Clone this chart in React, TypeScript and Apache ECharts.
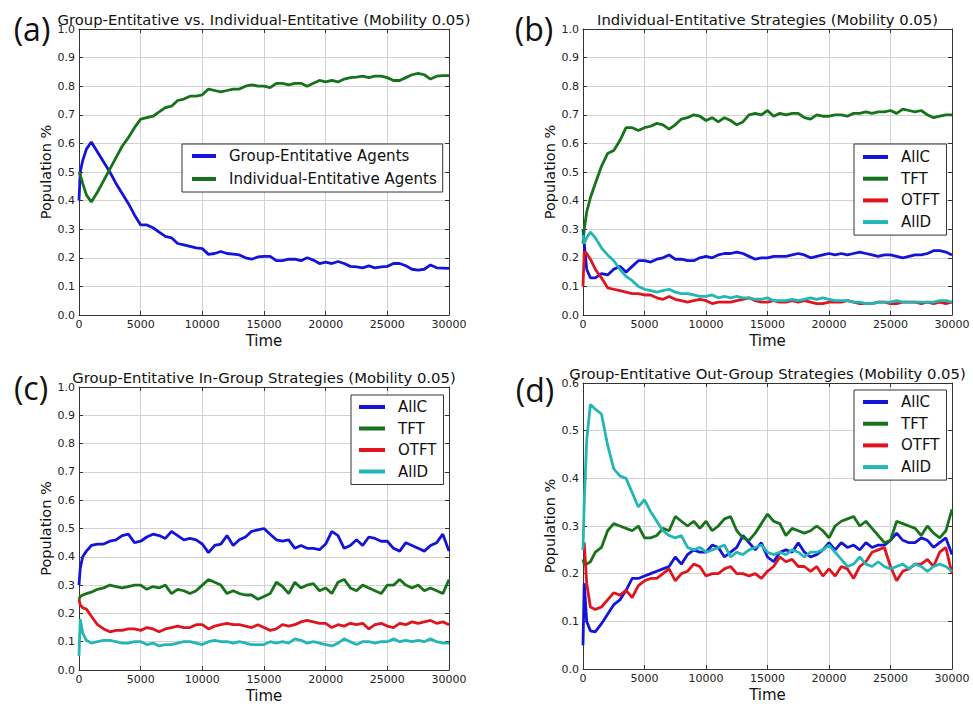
import React, { useEffect, useRef } from "react";
import * as echarts from "echarts";

const times = [
  0, 100, 300, 600, 1000,
  1500, 2000, 2500, 3000, 3500, 4000, 4500, 5000,
  5500, 6000, 6500, 7000, 7500, 8000, 8500, 9000, 9500, 10000,
  10500, 11000, 11500, 12000, 12500, 13000, 13500, 14000, 14500, 15000,
  15500, 16000, 16500, 17000, 17500, 18000, 18500, 19000, 19500, 20000,
  20500, 21000, 21500, 22000, 22500, 23000, 23500, 24000, 24500, 25000,
  25500, 26000, 26500, 27000, 27500, 28000, 28500, 29000, 29500, 30000,
];

// (a)
const aGroup = [
  0.40, 0.50, 0.54, 0.58, 0.605,
  0.57, 0.535, 0.50, 0.46, 0.425, 0.39, 0.35, 0.315,
  0.315, 0.305, 0.29, 0.275, 0.27, 0.25, 0.245, 0.24, 0.235, 0.232,
  0.212, 0.215, 0.222, 0.215, 0.213, 0.21, 0.20, 0.195, 0.203, 0.205,
  0.205, 0.19, 0.19, 0.195, 0.195, 0.19, 0.20, 0.192, 0.18, 0.185,
  0.18, 0.187, 0.18, 0.17, 0.168, 0.165, 0.172, 0.165, 0.168, 0.17,
  0.18, 0.18, 0.172, 0.16, 0.157, 0.16, 0.175, 0.165, 0.164, 0.163,
];
const aIndiv = [
  0.50, 0.49, 0.46, 0.42, 0.395,
  0.43, 0.47, 0.51, 0.55, 0.59, 0.62, 0.655, 0.685,
  0.69, 0.695, 0.71, 0.725, 0.73, 0.75, 0.755, 0.765, 0.765, 0.77,
  0.79, 0.785, 0.78, 0.785, 0.79, 0.79, 0.80, 0.805, 0.80, 0.80,
  0.795, 0.81, 0.81, 0.805, 0.81, 0.81, 0.80, 0.81, 0.82, 0.815,
  0.82, 0.815, 0.825, 0.83, 0.832, 0.835, 0.83, 0.835, 0.835, 0.83,
  0.82, 0.82, 0.83, 0.84, 0.845, 0.84, 0.825, 0.835, 0.837, 0.837,
];

// (b)
const bAllC = [
  0.30, 0.25, 0.16, 0.13, 0.13,
  0.145, 0.14, 0.16, 0.17, 0.15, 0.17, 0.19, 0.19,
  0.185, 0.195, 0.20, 0.21, 0.195, 0.195, 0.19, 0.19, 0.20, 0.205,
  0.20, 0.21, 0.215, 0.215, 0.22, 0.215, 0.205, 0.195, 0.20, 0.20,
  0.205, 0.205, 0.205, 0.21, 0.215, 0.21, 0.20, 0.205, 0.21, 0.215,
  0.21, 0.215, 0.21, 0.215, 0.22, 0.215, 0.21, 0.205, 0.21, 0.21,
  0.205, 0.20, 0.205, 0.21, 0.21, 0.215, 0.225, 0.225, 0.22, 0.21,
];
const bTFT = [
  0.25, 0.30, 0.36, 0.41, 0.46,
  0.52, 0.565, 0.575, 0.61, 0.655, 0.655, 0.645, 0.655,
  0.66, 0.67, 0.665, 0.65, 0.665, 0.685, 0.69, 0.70, 0.695, 0.68,
  0.69, 0.675, 0.69, 0.68, 0.665, 0.675, 0.70, 0.705, 0.70, 0.715,
  0.695, 0.705, 0.70, 0.705, 0.705, 0.69, 0.685, 0.70, 0.695, 0.695,
  0.70, 0.70, 0.695, 0.705, 0.705, 0.71, 0.705, 0.71, 0.71, 0.715,
  0.705, 0.72, 0.715, 0.71, 0.715, 0.70, 0.69, 0.695, 0.70, 0.70,
];
const bOTFT = [
  0.10, 0.22, 0.215, 0.195, 0.16,
  0.13, 0.095, 0.09, 0.085, 0.08, 0.075, 0.075, 0.07,
  0.07, 0.06, 0.055, 0.065, 0.055, 0.05, 0.045, 0.05, 0.055, 0.05,
  0.04, 0.045, 0.045, 0.045, 0.05, 0.055, 0.06, 0.05, 0.045, 0.045,
  0.05, 0.045, 0.045, 0.05, 0.045, 0.05, 0.045, 0.04, 0.04, 0.045,
  0.045, 0.045, 0.05, 0.045, 0.04, 0.04, 0.04, 0.045, 0.045, 0.04,
  0.04, 0.045, 0.045, 0.045, 0.04, 0.045, 0.04, 0.045, 0.04, 0.045,
];
const bAllD = [
  0.28, 0.25, 0.27, 0.29, 0.27,
  0.235, 0.21, 0.19, 0.16, 0.135, 0.12, 0.10, 0.09,
  0.085, 0.08, 0.085, 0.09, 0.08, 0.075, 0.075, 0.07, 0.065, 0.065,
  0.07, 0.06, 0.065, 0.06, 0.065, 0.06, 0.06, 0.055, 0.055, 0.06,
  0.05, 0.05, 0.05, 0.055, 0.05, 0.055, 0.06, 0.055, 0.06, 0.055,
  0.05, 0.05, 0.05, 0.045, 0.045, 0.04, 0.04, 0.045, 0.045, 0.045,
  0.05, 0.045, 0.045, 0.045, 0.045, 0.045, 0.045, 0.05, 0.05, 0.045,
];

// (c)
const cAllC = [
  0.30, 0.36, 0.40, 0.42, 0.44,
  0.445, 0.445, 0.455, 0.46, 0.475, 0.48, 0.45, 0.455,
  0.47, 0.48, 0.475, 0.465, 0.49, 0.475, 0.46, 0.465, 0.46, 0.445,
  0.415, 0.44, 0.445, 0.475, 0.44, 0.46, 0.47, 0.49, 0.495, 0.50,
  0.48, 0.46, 0.455, 0.46, 0.43, 0.44, 0.43, 0.43, 0.425, 0.445,
  0.49, 0.475, 0.43, 0.44, 0.46, 0.44, 0.47, 0.465, 0.455, 0.455,
  0.43, 0.42, 0.45, 0.44, 0.43, 0.42, 0.44, 0.45, 0.48, 0.42,
];
const cTFT = [
  0.25, 0.26, 0.265, 0.27, 0.275,
  0.285, 0.29, 0.30, 0.295, 0.29, 0.295, 0.30, 0.30,
  0.285, 0.295, 0.29, 0.30, 0.27, 0.285, 0.28, 0.27, 0.28, 0.30,
  0.32, 0.31, 0.30, 0.27, 0.28, 0.27, 0.265, 0.265, 0.25, 0.26,
  0.27, 0.31, 0.295, 0.27, 0.31, 0.29, 0.30, 0.305, 0.28, 0.29,
  0.27, 0.31, 0.32, 0.29, 0.28, 0.30, 0.29, 0.28, 0.27, 0.30,
  0.30, 0.32, 0.30, 0.29, 0.30, 0.28, 0.29, 0.28, 0.27, 0.32,
];
const cOTFT = [
  0.25, 0.23, 0.22, 0.215, 0.19,
  0.16, 0.145, 0.135, 0.14, 0.14, 0.145, 0.145, 0.14,
  0.15, 0.145, 0.135, 0.145, 0.15, 0.155, 0.15, 0.15, 0.16, 0.16,
  0.145, 0.155, 0.16, 0.165, 0.16, 0.16, 0.155, 0.15, 0.16, 0.15,
  0.14, 0.145, 0.16, 0.155, 0.16, 0.17, 0.175, 0.17, 0.165, 0.165,
  0.15, 0.16, 0.155, 0.165, 0.16, 0.165, 0.145, 0.16, 0.165, 0.155,
  0.15, 0.165, 0.16, 0.17, 0.165, 0.17, 0.175, 0.165, 0.17, 0.16,
];
const cAllD = [
  0.05, 0.18, 0.13, 0.105, 0.095,
  0.10, 0.105, 0.105, 0.10, 0.095, 0.095, 0.10, 0.10,
  0.09, 0.095, 0.085, 0.09, 0.09, 0.095, 0.10, 0.10, 0.095, 0.09,
  0.10, 0.105, 0.10, 0.10, 0.095, 0.10, 0.095, 0.09, 0.09, 0.09,
  0.10, 0.095, 0.10, 0.095, 0.11, 0.105, 0.095, 0.10, 0.095, 0.09,
  0.085, 0.095, 0.11, 0.10, 0.09, 0.10, 0.10, 0.095, 0.10, 0.10,
  0.11, 0.10, 0.105, 0.10, 0.105, 0.10, 0.11, 0.10, 0.095, 0.095,
];

// (d)
const dAllC = [
  0.05, 0.18, 0.10, 0.08, 0.078,
  0.095, 0.115, 0.135, 0.145, 0.165, 0.19, 0.19, 0.195,
  0.20, 0.205, 0.21, 0.215, 0.235, 0.22, 0.24, 0.25, 0.245, 0.245,
  0.26, 0.255, 0.235, 0.245, 0.255, 0.28, 0.265, 0.25, 0.265, 0.235,
  0.225, 0.245, 0.25, 0.245, 0.265, 0.245, 0.235, 0.24, 0.25, 0.265,
  0.25, 0.265, 0.255, 0.26, 0.25, 0.265, 0.255, 0.26, 0.26, 0.27,
  0.285, 0.27, 0.265, 0.265, 0.275, 0.27, 0.255, 0.265, 0.275, 0.24,
];
const dTFT = [
  0.23, 0.22, 0.22, 0.225, 0.245,
  0.255, 0.29, 0.305, 0.30, 0.295, 0.29, 0.30, 0.275,
  0.275, 0.28, 0.295, 0.29, 0.32, 0.31, 0.30, 0.31, 0.295, 0.31,
  0.29, 0.30, 0.315, 0.32, 0.29, 0.275, 0.27, 0.285, 0.305, 0.325,
  0.31, 0.305, 0.28, 0.295, 0.29, 0.285, 0.29, 0.30, 0.29, 0.275,
  0.30, 0.31, 0.315, 0.32, 0.30, 0.31, 0.295, 0.28, 0.265, 0.27,
  0.31, 0.305, 0.30, 0.295, 0.28, 0.30, 0.285, 0.275, 0.29, 0.335,
];
const dOTFT = [
  0.25, 0.265, 0.18, 0.13, 0.125,
  0.13, 0.145, 0.16, 0.155, 0.165, 0.15, 0.175, 0.185,
  0.19, 0.19, 0.20, 0.21, 0.185, 0.20, 0.205, 0.22, 0.215, 0.195,
  0.20, 0.20, 0.21, 0.215, 0.20, 0.20, 0.195, 0.20, 0.19, 0.205,
  0.215, 0.235, 0.225, 0.23, 0.215, 0.215, 0.205, 0.215, 0.195, 0.21,
  0.195, 0.215, 0.21, 0.19, 0.215, 0.225, 0.245, 0.25, 0.255, 0.215,
  0.185, 0.205, 0.21, 0.22, 0.22, 0.23, 0.215, 0.245, 0.255, 0.20,
];
const dAllD = [
  0.25, 0.35, 0.48, 0.555, 0.545,
  0.535, 0.47, 0.42, 0.405, 0.40, 0.37, 0.34, 0.355,
  0.33, 0.31, 0.29, 0.28, 0.275, 0.28, 0.255, 0.25, 0.255, 0.245,
  0.25, 0.255, 0.26, 0.235, 0.245, 0.24, 0.25, 0.255, 0.26, 0.245,
  0.24, 0.245, 0.24, 0.25, 0.245, 0.235, 0.245, 0.245, 0.25, 0.26,
  0.245, 0.23, 0.215, 0.22, 0.235, 0.22, 0.215, 0.225, 0.215, 0.21,
  0.215, 0.22, 0.21, 0.22, 0.215, 0.205, 0.215, 0.22, 0.215, 0.205,
];

const strategyNames = ["AllC", "TFT", "OTFT", "AllD"];
const agentNames = ["Group-Entitative Agents", "Individual-Entitative Agents"];
const panelTitles = [
  "Group-Entitative vs. Individual-Entitative (Mobility 0.05)",
  "Individual-Entitative Strategies (Mobility 0.05)",
  "Group-Entitative In-Group Strategies (Mobility 0.05)",
  "Group-Entitative Out-Group Strategies (Mobility 0.05)",
];
const panelLetters = ["(a)", "(b)", "(c)", "(d)"];
const yMaxes = [1.0, 1.0, 1.0, 0.6];

const BLUE = "#1414d8";
const GREEN = "#17731a";
const RED = "#e0141e";
const CYAN = "#22b6b6";
const FONT = "DejaVu Sans";

export default function App() {
  const ref = useRef<HTMLDivElement>(null);
  useEffect(() => {
    document.body.style.margin = "0";
    const chart = echarts.init(ref.current!, null, { renderer: "svg" });

    const grids = [
      { left: 79, top: 29, width: 370, height: 286 },
      { left: 583, top: 29, width: 369, height: 286 },
      { left: 79, top: 387, width: 370, height: 287 },
      { left: 583, top: 383, width: 369, height: 286 },
    ];

    const panelSeries: { name: string; color: string; values: number[] }[][] = [
      [
        { name: agentNames[0], color: BLUE, values: aGroup },
        { name: agentNames[1], color: GREEN, values: aIndiv },
      ],
      [
        { name: "AllC", color: BLUE, values: bAllC },
        { name: "TFT", color: GREEN, values: bTFT },
        { name: "OTFT", color: RED, values: bOTFT },
        { name: "AllD", color: CYAN, values: bAllD },
      ],
      [
        { name: "AllC", color: BLUE, values: cAllC },
        { name: "TFT", color: GREEN, values: cTFT },
        { name: "OTFT", color: RED, values: cOTFT },
        { name: "AllD", color: CYAN, values: cAllD },
      ],
      [
        { name: "AllC", color: BLUE, values: dAllC },
        { name: "TFT", color: GREEN, values: dTFT },
        { name: "OTFT", color: RED, values: dOTFT },
        { name: "AllD", color: CYAN, values: dAllD },
      ],
    ];

    const xAxes: any[] = [];
    const yAxes: any[] = [];
    grids.forEach((g, i) => {
      xAxes.push({
        type: "value",
        gridIndex: i,
        min: 0,
        max: 30000,
        interval: 5000,
        name: "Time",
        nameLocation: "middle",
        nameGap: 18,
        nameTextStyle: { fontFamily: FONT, fontSize: 15, color: "#111" },
        axisLine: { show: true, onZero: false, lineStyle: { color: "#333", width: 1 } },
        axisTick: { show: true, inside: true, length: 4, lineStyle: { color: "#333" } },
        axisLabel: {
          fontFamily: FONT,
          fontSize: 11,
          color: "#222",
          margin: 4,
          formatter: (v: number) => String(v),
        },
        splitLine: { show: true, lineStyle: { color: "#d2d2d2", width: 1 } },
      });
      xAxes.push({
        type: "value",
        gridIndex: i,
        position: "top",
        min: 0,
        max: 30000,
        interval: 5000,
        axisLine: { show: true, onZero: false, lineStyle: { color: "#333", width: 1 } },
        axisTick: { show: true, inside: true, length: 4, lineStyle: { color: "#333" } },
        axisLabel: { show: false },
        splitLine: { show: false },
      });
      yAxes.push({
        type: "value",
        gridIndex: i,
        min: 0,
        max: yMaxes[i],
        interval: 0.1,
        name: "Population %",
        nameLocation: "middle",
        nameGap: 25,
        nameRotate: 90,
        nameTextStyle: { fontFamily: FONT, fontSize: 14.5, color: "#111" },
        axisLine: { show: true, onZero: false, lineStyle: { color: "#333", width: 1 } },
        axisTick: { show: true, inside: true, length: 4, lineStyle: { color: "#333" } },
        axisLabel: {
          fontFamily: FONT,
          fontSize: 11,
          color: "#222",
          margin: 4,
          formatter: (v: number) => v.toFixed(1),
        },
        splitLine: { show: true, lineStyle: { color: "#d2d2d2", width: 1 } },
      });
      yAxes.push({
        type: "value",
        gridIndex: i,
        position: "right",
        min: 0,
        max: yMaxes[i],
        interval: 0.1,
        axisLine: { show: true, onZero: false, lineStyle: { color: "#333", width: 1 } },
        axisTick: { show: true, inside: true, length: 4, lineStyle: { color: "#333" } },
        axisLabel: { show: false },
        splitLine: { show: false },
      });
    });

    const series: any[] = [];
    panelSeries.forEach((list, i) => {
      list.forEach((s) => {
        series.push({
          type: "line",
          name: s.name,
          xAxisIndex: i * 2,
          yAxisIndex: i * 2,
          data: times.map((t, k) => [t, s.values[k]]),
          showSymbol: false,
          symbol: "none",
          color: s.color,
          lineStyle: { color: s.color, width: 2.8 },
          emphasis: { disabled: true },
        });
      });
    });

    const legendBase = {
      orient: "vertical",
      icon: "rect",
      itemHeight: 4,
      borderColor: "#333",
      borderWidth: 1,
      borderRadius: 0,
      backgroundColor: "#fff",
      selectedMode: false,
      textStyle: {
        fontFamily: FONT,
        fontSize: 15,
        color: "#111",
        lineHeight: 16,
        padding: [0, 0, 0, 8],
      },
    };

    const legends = [
      { ...legendBase, data: agentNames, left: 182, top: 144, padding: [4, 6, 5, 10], itemGap: 7, itemWidth: 24 },
      { ...legendBase, data: strategyNames, left: 854, top: 144, padding: [5, 7, 5, 9], itemGap: 5.7, itemWidth: 25 },
      { ...legendBase, data: strategyNames, left: 351, top: 395, padding: [4, 7, 5, 8], itemGap: 5.5, itemWidth: 26 },
      { ...legendBase, data: strategyNames, left: 854, top: 390, padding: [4, 7, 5, 9], itemGap: 5.7, itemWidth: 25 },
    ];

    const titleY = [19, 19, 377, 373];
    const letterPos = [
      [32, 28],
      [534, 28],
      [31, 387],
      [535, 389],
    ];
    const graphics: any[] = [];
    grids.forEach((g, i) => {
      graphics.push({
        type: "text",
        x: g.left + g.width / 2,
        y: titleY[i],
        style: {
          text: panelTitles[i],
          fontFamily: FONT,
          fontSize: 14.8,
          fill: "#111",
          align: "center",
          verticalAlign: "middle",
        },
      });
      graphics.push({
        type: "text",
        x: letterPos[i][0],
        y: letterPos[i][1],
        style: {
          text: panelLetters[i],
          fontFamily: "Open Sans",
          fontSize: 32,
          fill: "#111",
          align: "center",
          verticalAlign: "middle",
        },
      });
    });

    chart.setOption({
      animation: false,
      backgroundColor: "#fff",
      grid: grids.map((g) => ({ ...g, containLabel: false })),
      xAxis: xAxes,
      yAxis: yAxes,
      legend: legends,
      series,
      graphic: graphics,
    });

    return () => chart.dispose();
  }, []);
  return <div ref={ref} style={{ width: 973, height: 704 }} />;
}
